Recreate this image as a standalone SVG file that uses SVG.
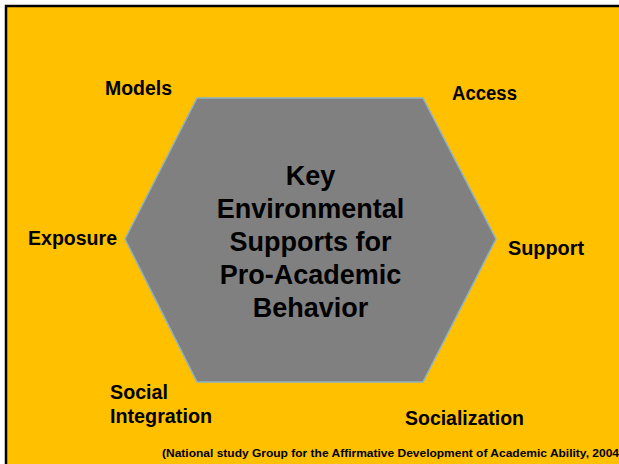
<svg xmlns="http://www.w3.org/2000/svg" width="619" height="464" viewBox="0 0 619 464">
<style>
.lbl{font-family:"Liberation Sans",Arial,Helvetica,sans-serif;font-weight:bold;font-size:19.5px;fill:#000}
.ctr{font-family:"Liberation Sans",Arial,Helvetica,sans-serif;font-weight:bold;font-size:27px;fill:#000;text-anchor:middle}
.cite{font-family:"Liberation Sans",Arial,Helvetica,sans-serif;font-weight:bold;font-size:11.5px;fill:#000}
</style>
<rect x="0" y="0" width="619" height="464" fill="#FFFFFF"/>
<rect x="6" y="6" width="620" height="470" fill="#FFC000" stroke="#000" stroke-width="2.5"/>
<g id="hexagon">
<polygon points="197,98 423,98 496,239 423,382 197,382 125,239" fill="#808080" stroke="#8FB3C4" stroke-width="1.5"/>
<text class="ctr" x="310.5" y="185">Key</text>
<text class="ctr" x="310.5" y="218">Environmental</text>
<text class="ctr" x="310.5" y="251">Supports for</text>
<text class="ctr" x="310.5" y="284">Pro-Academic</text>
<text class="ctr" x="310.5" y="317">Behavior</text>
</g>
<g id="models"><text class="lbl" x="105" y="95" textLength="67" lengthAdjust="spacingAndGlyphs">Models</text></g>
<g id="access"><text class="lbl" x="452" y="100" textLength="65" lengthAdjust="spacingAndGlyphs">Access</text></g>
<g id="exposure"><text class="lbl" x="28" y="245" textLength="89" lengthAdjust="spacingAndGlyphs">Exposure</text></g>
<g id="support"><text class="lbl" x="508" y="255" textLength="76" lengthAdjust="spacingAndGlyphs">Support</text></g>
<g id="social-integration"><text class="lbl" x="110" y="399" textLength="58" lengthAdjust="spacingAndGlyphs">Social</text><text class="lbl" x="110" y="422.5" textLength="102" lengthAdjust="spacingAndGlyphs">Integration</text></g>
<g id="socialization"><text class="lbl" x="405" y="425" textLength="119" lengthAdjust="spacingAndGlyphs">Socialization</text></g>
<g id="connectors"></g>
<text class="cite" x="162" y="457" textLength="457" lengthAdjust="spacingAndGlyphs">(National study Group for the Affirmative Development of Academic Ability, 2004</text>
</svg>
